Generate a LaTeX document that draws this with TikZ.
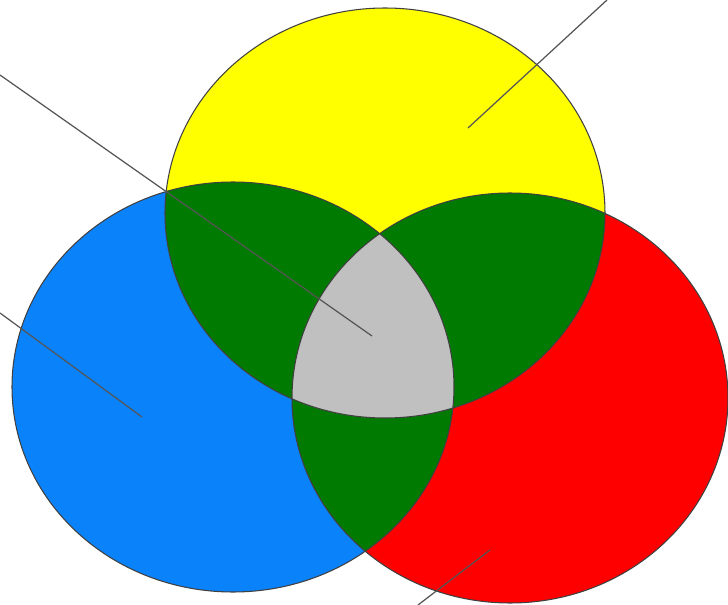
\documentclass[tikz,border=0pt]{standalone}
\usepackage{tikz}
\usetikzlibrary{calc}
\definecolor{setyellow}{HTML}{FFFF00}
\definecolor{setblue}{HTML}{0A82FA}
\definecolor{setred}{HTML}{FF0000}
\definecolor{setgreen}{HTML}{007A00}
\definecolor{setgray}{HTML}{C0C0C0}
\definecolor{leadergray}{HTML}{555555}
\newcommand{\ellYellow}{(Y) ellipse [x radius=220,y radius=205]}
\newcommand{\ellBlue}{(B) ellipse [x radius=221,y radius=205]}
\newcommand{\ellRed}{(R) ellipse [x radius=218,y radius=205]}

\begin{document}
\begin{tikzpicture}[x=0.02cm,y=-0.02cm,
  rim/.style={draw=black!75,line width=0.6pt},
  leader/.style={leadergray,line width=0.7pt}]
  \useasboundingbox (0,0) rectangle (728,605);
  \coordinate (Y) at (385,213);
  \coordinate (B) at (233,387);
  \coordinate (R) at (510,398);
  % the three sets
  \fill[setblue] \ellBlue;
  \fill[setred] \ellRed;
  \fill[setyellow] \ellYellow;
  % pairwise overlaps
  \begin{scope}
    \clip \ellYellow;
    \fill[setgreen] \ellBlue;
    \fill[setgreen] \ellRed;
  \end{scope}
  \begin{scope}
    \clip \ellBlue;
    \fill[setgreen] \ellRed;
  \end{scope}
  % common part
  \begin{scope}
    \clip \ellYellow;
    \clip \ellBlue;
    \fill[setgray] \ellRed;
  \end{scope}
  \draw[rim] \ellYellow;
  \draw[rim] \ellBlue;
  \draw[rim] \ellRed;
  % leader lines
  \coordinate (allTip) at (372,336);
  \coordinate (allEnd) at (0,75);
  \coordinate (yellowTip) at (468,128);
  \coordinate (yellowEnd) at (607,0);
  \coordinate (blueTip) at (142,417);
  \coordinate (blueEnd) at (0,313);
  \coordinate (redTip) at (490,550);
  \coordinate (redEnd) at (418,605);
  \draw[leader] (allEnd) -- (allTip);
  \draw[leader] (yellowEnd) -- (yellowTip);
  \draw[leader] (blueEnd) -- (blueTip);
  \draw[leader] (redEnd) -- (redTip);
\end{tikzpicture}
\end{document}
